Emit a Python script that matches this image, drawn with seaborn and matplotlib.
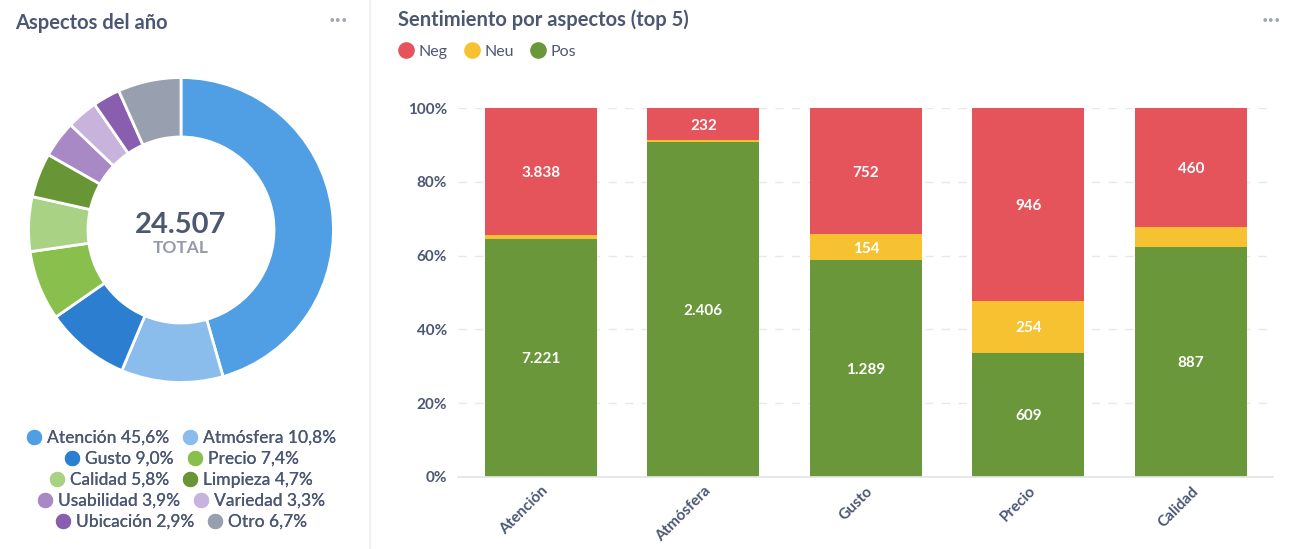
import numpy as np
import pandas as pd
import seaborn as sns
import matplotlib
matplotlib.use('Agg')
import matplotlib.pyplot as plt
from matplotlib.lines import Line2D

sns.set_theme(style='white')
plt.rcParams['font.family'] = ['Lato', 'DejaVu Sans']

# donut data
aspectos = ['Atención', 'Atmósfera', 'Gusto', 'Precio', 'Calidad', 'Limpieza',
            'Usabilidad', 'Variedad', 'Ubicación', 'Otro']
porcentajes = [45.6, 10.8, 9.0, 7.4, 5.8, 4.7, 3.9, 3.3, 2.9, 6.7]
total = 24507
colores_donut = ['#509EE3', '#8BBDEC', '#2B7ED0', '#88BF4D', '#A9D285', '#689636',
                 '#A989C5', '#C7B3DC', '#8A5EAF', '#98A0B0']

# stacked bar data (top 5)
top5 = ['Atención', 'Atmósfera', 'Gusto', 'Precio', 'Calidad']
neg = [3838, 232, 752, 946, 460]
neu = [116, 9, 154, 254, 74]
pos = [7221, 2406, 1289, 609, 887]
col_neg, col_neu, col_pos = '#E5535B', '#F6C232', '#6A973A'

txt = '#4C5773'

fig = plt.figure(figsize=(12.89, 5.49), dpi=100)

# ---- left panel: donut
fig.text(15 / 1289, 1 - 23 / 549, 'Aspectos del año', fontsize=14.5, fontweight='bold',
         color=txt, va='center', ha='left')
fig.text(338 / 1289, 1 - 20 / 549, '···', fontsize=18, color='#A0A6B4', ha='center', va='center')

ax1 = fig.add_axes([(181 - 154) / 1289, 1 - (230 + 154) / 549, 308 / 1289, 308 / 549])
ax1.pie(porcentajes, colors=colores_donut, startangle=90, counterclock=False,
        wedgeprops=dict(width=0.39, edgecolor='white', linewidth=2))
ax1.set_xlim(-1.01, 1.01)
ax1.set_ylim(-1.01, 1.01)
ax1.text(0, 0.05, f'{total:,}'.replace(',', '.'), ha='center', va='center_baseline',
         fontsize=21, fontweight='bold', color=txt)
ax1.text(0, -0.11, 'TOTAL', ha='center', va='center_baseline', fontsize=12.5,
         fontweight='bold', color='#949AAB')

# legend rows, two items each, centered
filas_y = [438, 459, 480, 501, 522]
for i, fy in enumerate(filas_y):
    idx = [2 * i, 2 * i + 1]
    handles = [Line2D([], [], marker='o', linestyle='', markersize=11,
                      markerfacecolor=colores_donut[j], markeredgecolor='none') for j in idx]
    labels = [f'{aspectos[j]} {porcentajes[j]:.1f}%'.replace('.', ',') for j in idx]
    leg = fig.legend(handles, labels, ncol=2, loc='center', frameon=False,
                     bbox_to_anchor=(181 / 1289, 1 - fy / 549), fontsize=12.5,
                     handletextpad=0.25, columnspacing=0.7, handlelength=1.0,
                     borderpad=0, borderaxespad=0)
    for t in leg.get_texts():
        t.set_color(txt)
        t.set_fontweight('medium')
    fig.add_artist(leg)

# divider
fig.add_artist(Line2D([370 / 1289, 370 / 1289], [0, 1], color='#EEEEF0', linewidth=1.2))

# ---- right panel: stacked percentage bars
fig.text(398 / 1289, 1 - 20 / 549, 'Sentimiento por aspectos (top 5)', fontsize=14.5,
         fontweight='bold', color=txt, va='center', ha='left')
fig.text(1271 / 1289, 1 - 20 / 549, '···', fontsize=18, color='#A0A6B4', ha='center', va='center')

df = pd.DataFrame({'aspecto': top5, 'Neg': neg, 'Neu': neu, 'Pos': pos})
tot = df[['Neg', 'Neu', 'Pos']].sum(axis=1)
df['pos_f'] = df['Pos'] / tot
df['neu_f'] = df['Neu'] / tot
df['neg_f'] = df['Neg'] / tot

ax2 = fig.add_axes([458 / 1289, 1 - 477 / 549, 815 / 1289, 369 / 549])
ax2.set_axisbelow(True)
ax2.yaxis.grid(True, linestyle=(0, (6, 6)), color='#E6E8EC', linewidth=1)
sns.barplot(data=df, x='aspecto', y='pos_f', color=col_pos, width=0.69,
            saturation=1, ax=ax2, edgecolor='none')
sns.barplot(data=df, x='aspecto', y='neu_f', color=col_neu, width=0.69,
            saturation=1, ax=ax2, bottom=df['pos_f'].values, edgecolor='none')
sns.barplot(data=df, x='aspecto', y='neg_f', color=col_neg, width=0.69,
            saturation=1, ax=ax2, bottom=(df['pos_f'] + df['neu_f']).values, edgecolor='none')

def fmt(v):
    return f'{v:,}'.replace(',', '.')

for i, r in df.iterrows():
    segs = [(r['Pos'], 0, r['pos_f']),
            (r['Neu'], r['pos_f'], r['neu_f']),
            (r['Neg'], r['pos_f'] + r['neu_f'], r['neg_f'])]
    for val, b, h in segs:
        if h > 0.06:
            ax2.text(i, b + h / 2, fmt(int(val)), ha='center', va='center_baseline',
                     color='white', fontsize=11, fontweight='bold')

ax2.set_xlim(-0.51, 4.505)
ax2.set_ylim(0, 1)
ax2.set_yticks(np.arange(0, 1.01, 0.2))
ax2.set_yticklabels([f'{int(round(v * 100))}%' for v in np.arange(0, 1.01, 0.2)])
ax2.set_xlabel('')
ax2.set_ylabel('')
for s in ['top', 'right', 'left']:
    ax2.spines[s].set_visible(False)
ax2.spines['bottom'].set_color('#E3E5E9')
ax2.tick_params(axis='y', length=0, pad=8, labelsize=11, labelcolor=txt)
ax2.tick_params(axis='x', length=0, pad=5, labelsize=11, labelcolor=txt)
for lab in ax2.get_yticklabels():
    lab.set_fontweight('bold')
for lab in ax2.get_xticklabels():
    lab.set_rotation(45)
    lab.set_ha('right')
    lab.set_rotation_mode('anchor')
    lab.set_fontweight('bold')

h2 = [Line2D([], [], marker='o', linestyle='', markersize=12, markerfacecolor=c,
             markeredgecolor='none') for c in [col_neg, col_neu, col_pos]]
leg2 = fig.legend(h2, ['Neg', 'Neu', 'Pos'], ncol=3, loc='center left', frameon=False,
                  bbox_to_anchor=(398 / 1289, 1 - 52 / 549), fontsize=11.5,
                  handletextpad=0.3, columnspacing=1.0, handlelength=1.0,
                  borderpad=0, borderaxespad=0)
for t in leg2.get_texts():
    t.set_color(txt)

fig.savefig('out.png', dpi=100, facecolor='white')
